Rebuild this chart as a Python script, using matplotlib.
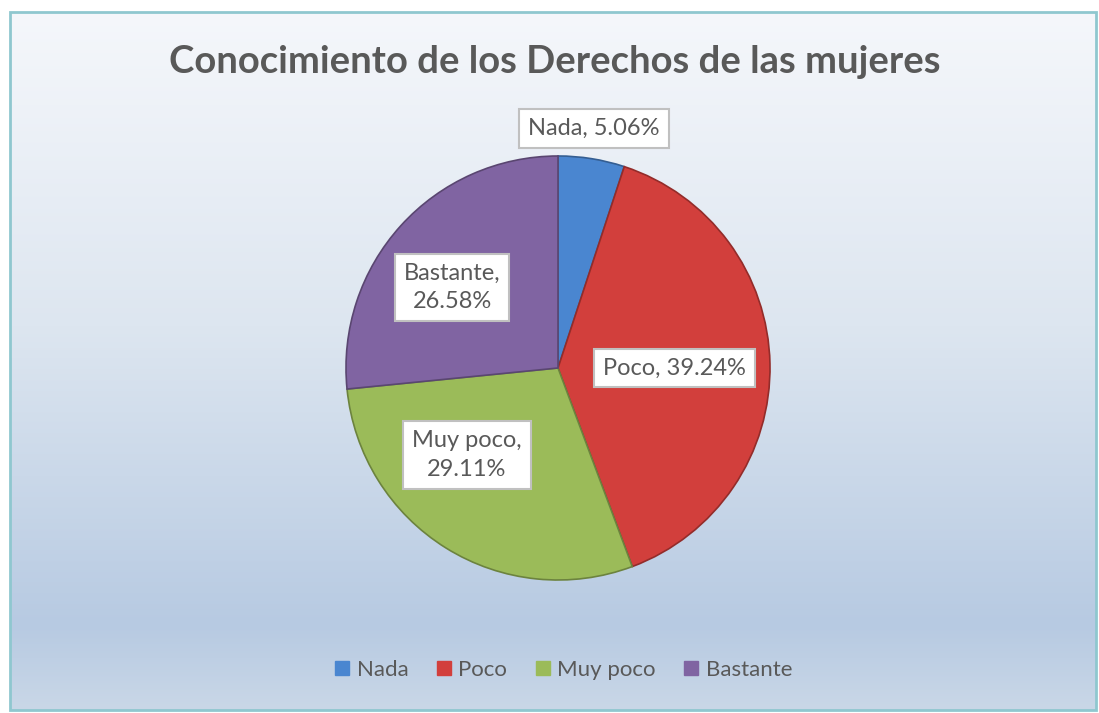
import numpy as np
import matplotlib.pyplot as plt
from matplotlib.colors import LinearSegmentedColormap, to_rgb
from matplotlib.patches import Rectangle
from matplotlib.lines import Line2D

# datos del grafico
categorias = ["Nada", "Poco", "Muy poco", "Bastante"]
porcentajes = [5.06, 39.24, 29.11, 26.58]
colores = ["#4a86d0", "#d23f3c", "#9bbb59", "#8064a2"]
titulo = "Conocimiento de los Derechos de las mujeres"

plt.rcParams['font.family'] = ['Lato', 'DejaVu Sans']
GRIS = "#595959"

W, H = 1099, 713
fig = plt.figure(figsize=(W / 100, H / 100), dpi=100)

# fondo con degradado
bg = fig.add_axes([0, 0, 1, 1])
bg.set_xlim(0, W)
bg.set_ylim(H, 0)
bg.axis("off")
cmap = LinearSegmentedColormap.from_list(
    "fondo", [(0, "#f5f7fb"), (0.45, "#dde6f0"), (0.88, "#b7cae2"), (1, "#c9d7e7")])
grad = np.linspace(0, 1, 256).reshape(-1, 1)
bg.imshow(grad, cmap=cmap, extent=[10, 1096, 710, 12], aspect="auto")
bg.add_patch(Rectangle((10, 12), 1086, 698, fill=False, edgecolor="#8fc7cf", lw=2))

# pastel
cx, cy, r = 558, 368, 212
ax = fig.add_axes([(cx - r) / W, 1 - (cy + r) / H, 2 * r / W, 2 * r / H])
bordes = [tuple(c * 0.7 for c in to_rgb(col)) for col in colores]
wedges, _ = ax.pie(porcentajes, colors=colores, startangle=90, counterclock=False,
                   radius=1, wedgeprops=dict(linewidth=1.2))
for w, b in zip(wedges, bordes):
    w.set_edgecolor(b)
ax.set_xlim(-1, 1)
ax.set_ylim(-1, 1)
ax.set_aspect("equal")

# posiciones de las etiquetas (relativas al radio)
pos_etiquetas = [(0.17, 1.13), (0.55, 0.0), (-0.43, -0.41), (-0.50, 0.38)]
textos = ["Nada, 5.06%", "Poco, 39.24%", "Muy poco,\n29.11%", "Bastante,\n26.58%"]
for (x, y), t in zip(pos_etiquetas, textos):
    ax.text(x, y, t, ha="center", va="center", fontsize=17, color=GRIS,
            linespacing=1.45,
            bbox=dict(boxstyle="square,pad=0.38", facecolor="white",
                      edgecolor="#c0c0c0", lw=1.5))

fig.text(0.505, 1 - 62 / H, titulo, ha="center", va="center", fontsize=27.5,
         fontweight="bold", color=GRIS)

handles = [Line2D([], [], marker="s", linestyle="", markersize=10,
                  markerfacecolor=c, markeredgecolor=c) for c in colores]
fig.legend(handles, categorias, loc="center", bbox_to_anchor=(0.512, 1 - 670 / H),
           ncol=4, frameon=False, fontsize=16, labelcolor=GRIS,
           handletextpad=0.25, columnspacing=1.2, handlelength=0.8)

fig.savefig("out.png", dpi=100)
